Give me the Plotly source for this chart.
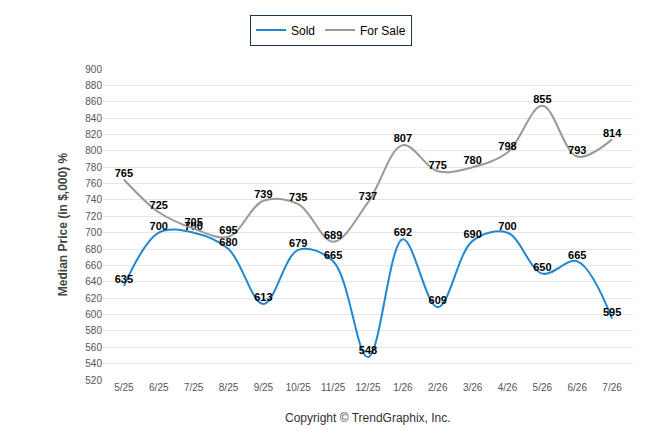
import plotly.graph_objects as go

months = ["5/25", "6/25", "7/25", "8/25", "9/25", "10/25", "11/25", "12/25",
          "1/26", "2/26", "3/26", "4/26", "5/26", "6/26", "7/26"]
sold = [635, 700, 700, 680, 613, 679, 665, 548, 692, 609, 690, 700, 650, 665, 595]
for_sale = [765, 725, 705, 695, 739, 735, 689, 737, 807, 775, 780, 798, 855, 793, 814]

fig = go.Figure()
fig.add_trace(go.Scatter(x=months, y=sold, name="Sold", mode="lines+text",
                         line=dict(color="#1f88d2", width=2, shape="spline"),
                         text=[str(v) for v in sold], textposition="top center",
                         textfont=dict(family="Arial", size=11, color="black", weight="bold")))
fig.add_trace(go.Scatter(x=months, y=for_sale, name="For Sale", mode="lines+text",
                         line=dict(color="#999999", width=2, shape="spline"),
                         text=[str(v) for v in for_sale], textposition="top center",
                         textfont=dict(family="Arial", size=11, color="black", weight="bold")))

fig.update_layout(
    width=646, height=434, paper_bgcolor="white", plot_bgcolor="white",
    margin=dict(l=95, r=21, t=61, b=62, autoexpand=False),
    font=dict(family="Arial", size=10, color="#555555"),
    legend=dict(orientation="h", x=0.5, xanchor="center", xref="container",
                y=0.985, yanchor="top", yref="container",
                bordercolor="#1c3557", borderwidth=1, font=dict(size=12, color="black")),
    xaxis=dict(showgrid=False, ticks="", range=[-0.6, 14.6], tickfont=dict(size=10)),
    yaxis=dict(range=[520, 900], dtick=20, gridcolor="#e6e6e6", zeroline=False,
               tickfont=dict(size=10),
               title=dict(text="Median Price (in $,000) %", font=dict(size=12, color="#444444", weight="bold"))),
    annotations=[dict(text="Copyright \u00a9 TrendGraphix, Inc.", x=0.5, y=-0.15,
                      xref="paper", yref="paper", showarrow=False,
                      font=dict(size=12, color="#333333"))],
)
fig.write_html("out.html")
